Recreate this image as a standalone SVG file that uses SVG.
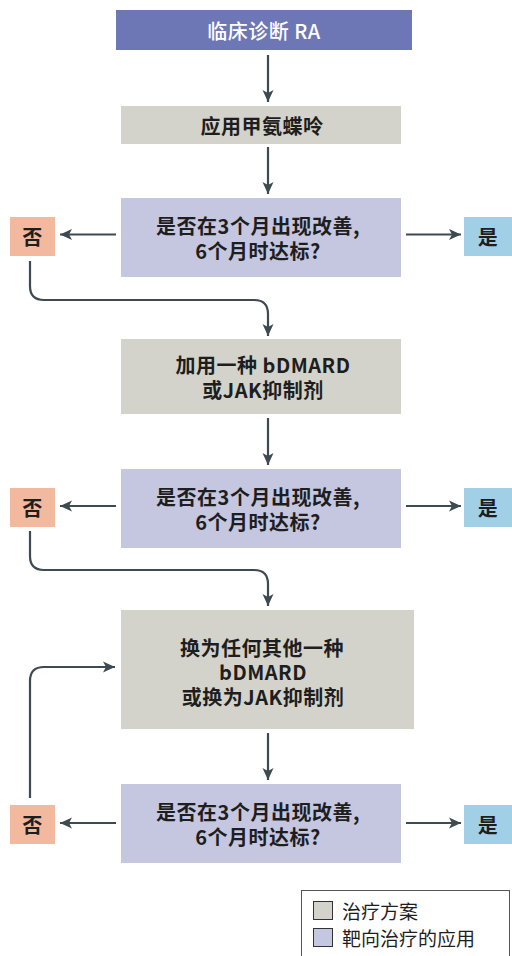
<svg xmlns="http://www.w3.org/2000/svg" width="512" height="956" viewBox="0 0 512 956">
<style>
.t{font-family:"Noto Sans CJK SC","Noto Sans",sans-serif;font-size:20px;font-weight:600;fill:#1e1e1e;text-anchor:middle;dominant-baseline:central;letter-spacing:0.5px}
.w{fill:#ffffff;font-weight:500}
.tr{fill:#d3d3cb}
.dc{fill:#c5c6e0}
.no{fill:#f3b99f}
.yes{fill:#a0cfe6}
.c{fill:none;stroke:#3d4a52;stroke-width:2.2}
.lg{font-family:"Noto Sans CJK SC","Noto Sans",sans-serif;font-size:19px;fill:#1e1e1e;dominant-baseline:central}
</style>
<defs>
<marker id="ah" markerUnits="userSpaceOnUse" markerWidth="13" markerHeight="12" refX="12" refY="6" orient="auto">
<path d="M0,0.5 L12,6 L0,11.5 L3,6 z" fill="#3d4a52"/>
</marker>
</defs>

<g id="n1">
<rect x="116" y="10" width="296" height="40" fill="#6e77b5"/>
<text class="t w" x="264" y="30">临床诊断 RA</text>
</g>
<g id="n2">
<rect class="tr" x="121" y="106" width="280" height="38"/>
<text class="t" x="262" y="125">应用甲氨蝶呤</text>
</g>
<g id="n3">
<rect class="dc" x="121" y="198" width="280" height="79"/>
<text class="t" x="258" y="225">是否在3个月出现改善,</text>
<text class="t" x="258" y="250">6个月时达标?</text>
</g>
<g id="no1">
<rect class="no" x="10" y="217" width="45" height="39"/>
<text class="t" x="32.5" y="236">否</text>
</g>
<g id="yes1">
<rect class="yes" x="464" y="217" width="48" height="39"/>
<text class="t" x="488" y="236">是</text>
</g>
<g id="n4">
<rect class="tr" x="121" y="339" width="280" height="75"/>
<text class="t" x="263" y="364">加用一种 bDMARD</text>
<text class="t" x="263" y="389">或JAK抑制剂</text>
</g>
<g id="n5">
<rect class="dc" x="121" y="469" width="280" height="79"/>
<text class="t" x="258" y="496">是否在3个月出现改善,</text>
<text class="t" x="258" y="521">6个月时达标?</text>
</g>
<g id="no2">
<rect class="no" x="10" y="488" width="45" height="39"/>
<text class="t" x="32.5" y="507">否</text>
</g>
<g id="yes2">
<rect class="yes" x="464" y="488" width="48" height="39"/>
<text class="t" x="488" y="507">是</text>
</g>
<g id="n6">
<rect class="tr" x="121" y="610" width="293" height="119"/>
<text class="t" x="262" y="647">换为任何其他一种</text>
<text class="t" x="263" y="671">bDMARD</text>
<text class="t" x="263" y="696">或换为JAK抑制剂</text>
</g>
<g id="n7">
<rect class="dc" x="121" y="784" width="280" height="79"/>
<text class="t" x="258" y="811">是否在3个月出现改善,</text>
<text class="t" x="258" y="836">6个月时达标?</text>
</g>
<g id="no3">
<rect class="no" x="10" y="805" width="45" height="39"/>
<text class="t" x="32.5" y="824">否</text>
</g>
<g id="yes3">
<rect class="yes" x="464" y="805" width="48" height="39"/>
<text class="t" x="488" y="824">是</text>
</g>

<g id="connectors">
<path class="c" d="M268,55 V102" marker-end="url(#ah)"/>
<path class="c" d="M268,147 V194" marker-end="url(#ah)"/>
<path class="c" d="M116,234.5 H60" marker-end="url(#ah)"/>
<path class="c" d="M406,234.5 H461" marker-end="url(#ah)"/>
<path class="c" d="M30,261 V286 Q30,300 44,300 H254 Q268,300 268,314 V336" marker-end="url(#ah)"/>
<path class="c" d="M268,418 V465" marker-end="url(#ah)"/>
<path class="c" d="M116,506 H60" marker-end="url(#ah)"/>
<path class="c" d="M406,506 H461" marker-end="url(#ah)"/>
<path class="c" d="M30,531 V556 Q30,570 44,570 H254 Q268,570 268,584 V606" marker-end="url(#ah)"/>
<path class="c" d="M268,733 V780" marker-end="url(#ah)"/>
<path class="c" d="M116,823 H60" marker-end="url(#ah)"/>
<path class="c" d="M406,823 H461" marker-end="url(#ah)"/>
<path class="c" d="M30,798 V681 Q30,667 44,667 H115" marker-end="url(#ah)"/>
</g>

<g id="legend">
<rect x="301.5" y="890.5" width="208" height="80" fill="none" stroke="#555" stroke-width="1"/>
<rect x="313.5" y="901.5" width="19" height="18" fill="#d3d3cb" stroke="#333" stroke-width="1"/>
<rect x="313.5" y="928.5" width="19" height="18" fill="#c5c6e0" stroke="#333" stroke-width="1"/>
<text class="lg" x="342" y="910">治疗方案</text>
<text class="lg" x="342" y="937">靶向治疗的应用</text>
</g>
</svg>
